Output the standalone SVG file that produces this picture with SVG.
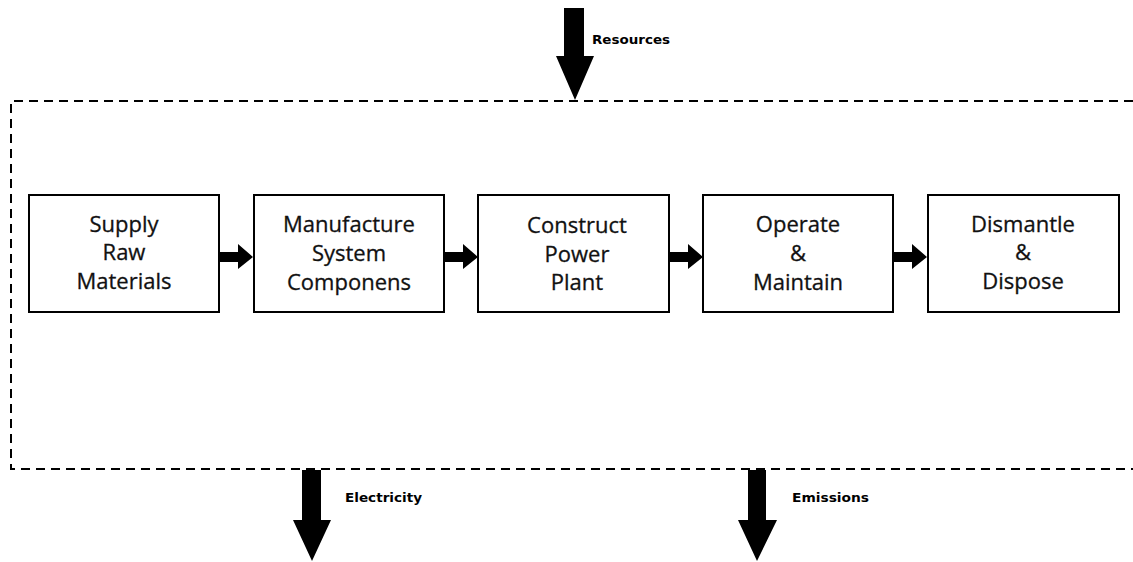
<svg xmlns="http://www.w3.org/2000/svg" width="1133" height="562" viewBox="0 0 1133 562">
  <style>
    .box { fill: #fff; stroke: #000; stroke-width: 2; }
    .boundary { fill: none; stroke: #000; stroke-width: 2; stroke-dasharray: 9 6; }
    .arrow { fill: #000; stroke: none; }
    .step { font-family: "Open Sans", "Noto Sans", sans-serif; font-size: 22px; fill: #111; stroke: #111; stroke-width: 0.3; text-anchor: middle; }
    .flow { font-family: "DejaVu Sans", "Liberation Sans", sans-serif; font-size: 12px; font-weight: bold; fill: #000; }
  </style>

  <!-- system boundary (open to the right) -->
  <path class="boundary" d="M1133 101 H11 V469 H1133"/>

  <!-- process steps -->
  <g id="supply">
    <rect class="box" x="29" y="195" width="190" height="117"/>
    <text class="step" x="124" y="232">Supply</text>
    <text class="step" x="124" y="260">Raw</text>
    <text class="step" x="124" y="289">Materials</text>
  </g>
  <g id="manufacture">
    <rect class="box" x="254" y="195" width="190" height="117"/>
    <text class="step" x="349" y="232">Manufacture</text>
    <text class="step" x="349" y="261">System</text>
    <text class="step" x="349" y="290">Componens</text>
  </g>
  <g id="construct">
    <rect class="box" x="478" y="195" width="191" height="117"/>
    <text class="step" x="577" y="233">Construct</text>
    <text class="step" x="577" y="262">Power</text>
    <text class="step" x="577" y="290">Plant</text>
  </g>
  <g id="operate">
    <rect class="box" x="703" y="195" width="190" height="117"/>
    <text class="step" x="798" y="232">Operate</text>
    <text class="step" x="798" y="261">&amp;</text>
    <text class="step" x="798" y="290">Maintain</text>
  </g>
  <g id="dismantle">
    <rect class="box" x="928" y="195" width="191" height="117"/>
    <text class="step" x="1023" y="232">Dismantle</text>
    <text class="step" x="1023" y="260">&amp;</text>
    <text class="step" x="1023" y="289">Dispose</text>
  </g>

  <!-- connectors -->
  <g id="connectors">
    <!-- step-to-step block arrows -->
    <path class="arrow" d="M220 252 H238 V244 L253 257 L238 269 V262 H220 Z"/>
    <path class="arrow" d="M445 252 H463 V244 L478 257 L463 269 V262 H445 Z"/>
    <path class="arrow" d="M670 252 H688 V244 L703 257 L688 269 V262 H670 Z"/>
    <path class="arrow" d="M894 252 H912 V244 L927 257 L912 269 V262 H894 Z"/>

    <!-- resource input -->
    <path class="arrow" d="M564 8 H584 V56 H594 L575 100 L556 56 H564 Z"/>
    <!-- electricity output -->
    <path class="arrow" d="M302 470 H321 V520 H331 L312 561 L293 520 H302 Z"/>
    <!-- emissions output -->
    <path class="arrow" d="M748 470 H766 V520 H777 L757 561 L738 520 H748 Z"/>
  </g>

  <text class="flow" x="592" y="44" textLength="78" lengthAdjust="spacingAndGlyphs">Resources</text>
  <text class="flow" x="345" y="502" textLength="77" lengthAdjust="spacingAndGlyphs">Electricity</text>
  <text class="flow" x="792" y="502" textLength="77" lengthAdjust="spacingAndGlyphs">Emissions</text>
</svg>
